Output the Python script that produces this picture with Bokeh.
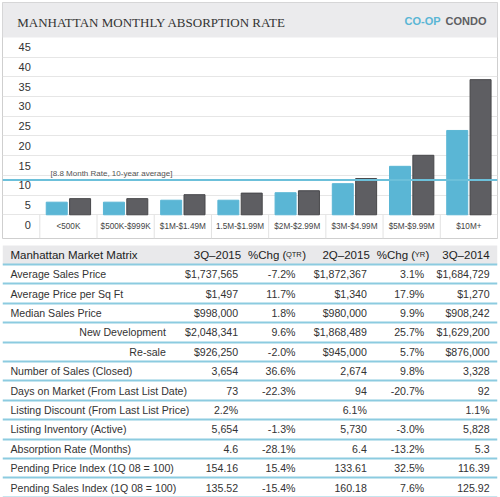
from bokeh.plotting import figure
from bokeh.models import Range1d, FixedTicker, Span, Label, BoxAnnotation, ColumnDataSource
from bokeh.layouts import column
from bokeh.transform import dodge
from bokeh.core.properties import value
from bokeh.embed import file_html
from bokeh.resources import INLINE

# ---------------- data ----------------
chart_title = "MANHATTAN MONTHLY ABSORPTION RATE"
series_names = ["CO-OP", "CONDO"]
categories = ["<500K", "$500K-$999K", "$1M-$1.49M", "1.5M-$1.99M",
              "$2M-$2.99M", "$3M-$4.99M", "$5M-$9.99M", "$10M+"]
coop = [3.2, 3.2, 3.7, 3.7, 5.6, 7.9, 12.3, 21.4]
condo = [4.1, 4.1, 5.1, 5.5, 6.1, 9.2, 15.1, 34.3]
avg_rate = 8.8
avg_note = "[8.8 Month Rate, 10-year average]"
y_ticks = [0, 5, 10, 15, 20, 25, 30, 35, 40, 45]
y_tick_labels = ["0", "5", "10", "15", "20", "25", "30", "35", "40", "45"]

table_title = "Manhattan Market Matrix"
period_headers = ["3Q\u20132015", "2Q\u20132015", "3Q\u20132014"]
chg_headers = ["QTR", "YR"]
row_labels = ["Average Sales Price", "Average Price per Sq Ft", "Median Sales Price",
              "New Development", "Re-sale", "Number of Sales (Closed)",
              "Days on Market (From Last List Date)", "Listing Discount (From Last List Price)",
              "Listing Inventory (Active)", "Absorption Rate (Months)",
              "Pending Price Index (1Q 08 = 100)", "Pending Sales Index (1Q 08 = 100)"]
sub_rows = ["New Development", "Re-sale"]
q3_2015 = ["$1,737,565", "$1,497", "$998,000", "$2,048,341", "$926,250", "3,654",
           "73", "2.2%", "5,654", "4.6", "154.16", "135.52"]
chg_qtr = ["-7.2%", "11.7%", "1.8%", "9.6%", "-2.0%", "36.6%",
           "-22.3%", "", "-1.3%", "-28.1%", "15.4%", "-15.4%"]
q2_2015 = ["$1,872,367", "$1,340", "$980,000", "$1,868,489", "$945,000", "2,674",
           "94", "6.1%", "5,730", "6.4", "133.61", "160.18"]
chg_yr = ["3.1%", "17.9%", "9.9%", "25.7%", "5.7%", "9.8%",
          "-20.7%", "", "-3.0%", "-13.2%", "32.5%", "7.6%"]
q3_2014 = ["$1,684,729", "$1,270", "$908,242", "$1,629,200", "$876,000", "3,328",
           "92", "1.1%", "5,828", "5.3", "116.39", "125.92"]

# ---------------- styles ----------------
BLUE = "#5ab6d5"
GRAY = "#5e5e62"
SANS = "Liberation Sans"
W = 500

# ---------------- chart ----------------
n = len(categories)
Y0, Y1 = -6.02, 53.88
p = figure(width=W, height=239, output_backend="svg", toolbar_location=None,
           x_range=Range1d(-0.652, 8.0), y_range=Range1d(Y0, Y1),
           min_border_left=2, min_border_right=3, min_border_top=2, min_border_bottom=1)
p.outline_line_color = "#cfcfcf"
p.background_fill_color = "white"
p.border_fill_color = "white"

p.add_layout(BoxAnnotation(bottom=45, fill_color="#ebebed", fill_alpha=1,
                           line_color=None, level="image"))

p.xgrid.visible = False
p.xaxis.visible = False
p.ygrid.ticker = FixedTicker(ticks=y_ticks[:-1])
p.ygrid.grid_line_color = "#e6e6e6"
p.ygrid.grid_line_width = 1

ya = p.yaxis[0]
ya.fixed_location = 0
ya.ticker = FixedTicker(ticks=[v - 2.5 for v in y_ticks])
ya.major_label_overrides = {v - 2.5: s for v, s in zip(y_ticks, y_tick_labels)}
ya.major_tick_line_color = None
ya.minor_tick_line_color = None
ya.major_tick_in = 0
ya.major_tick_out = 0
ya.minor_tick_in = 0
ya.minor_tick_out = 0
ya.axis_line_color = None
ya.major_label_standoff = 9
ya.major_label_text_font = SANS
ya.major_label_text_font_size = "11px"
ya.major_label_text_color = "#333333"

# category label row: separators at category boundaries and the labels
bounds = list(range(n + 1))
p.segment(x0=bounds, x1=bounds, y0=[0] * len(bounds), y1=[Y0] * len(bounds),
          line_color="#e2e2e2", line_width=1)
centers = [i + 0.5 for i in range(n)]
p.text(x=centers, y=[-3.0] * n, text=categories, text_align="center",
       text_baseline="middle", text_font=value(SANS), text_font_size="8.2px",
       text_color="#444444")

src = ColumnDataSource(dict(x=centers, coop=coop, condo=condo))
p.vbar(x=dodge("x", -0.204, range=p.x_range), top="coop", width=0.367, source=src,
       fill_color=BLUE, line_color=BLUE)
p.vbar(x=dodge("x", 0.204, range=p.x_range), top="condo", width=0.367, source=src,
       fill_color=GRAY, line_color="#47474a")

p.add_layout(Span(location=avg_rate, dimension="width", line_color="#6cc0da", line_width=2))
p.add_layout(Label(x=0.187, y=avg_rate + 0.45, text=avg_note, text_baseline="bottom",
                   text_font=SANS, text_font_size="8px", text_color="#555555"))

p.add_layout(Label(x=-0.395, y=48.68, text=chart_title, text_baseline="middle",
                   text_font="Liberation Serif", text_font_size="13px", text_color="#333333"))
p.add_layout(Label(x=6.375, y=49.3, text=series_names[0], text_baseline="middle",
                   text_font=SANS, text_font_style="bold",
                   text_font_size="11px", text_color=BLUE))
p.add_layout(Label(x=7.093, y=49.3, text=series_names[1], text_baseline="middle",
                   text_font=SANS, text_font_style="bold",
                   text_font_size="11px", text_color=GRAY))

# ---------------- table ----------------
nr = len(row_labels)
t = figure(width=W, height=258, output_backend="svg", toolbar_location=None,
           x_range=Range1d(0, 500), y_range=Range1d(11.51, -1.789),
           min_border_left=0, min_border_right=0, min_border_top=0, min_border_bottom=0)
t.outline_line_color = None
t.xaxis.visible = False
t.yaxis.visible = False
t.xgrid.visible = False
t.ygrid.ticker = FixedTicker(ticks=[k + 0.5 for k in range(-1, nr)])
t.ygrid.grid_line_color = "#8ccbe0"
t.ygrid.grid_line_width = 2

t.add_layout(BoxAnnotation(top=-1.479, bottom=-0.5, fill_color="#e9e9eb", fill_alpha=1,
                           line_color=None, level="image"))

ys = list(range(nr))
main_idx = [i for i, r in enumerate(row_labels) if r not in sub_rows]
sub_idx = [i for i, r in enumerate(row_labels) if r in sub_rows]
DATA_FS = "10.6px"
HEAD_FS = "11.5px"
TXT = "#333333"

t.text(x=8, y=[ys[i] for i in main_idx], text=[row_labels[i] for i in main_idx],
       text_align="left", text_baseline="middle", text_font=value(SANS),
       text_font_size=DATA_FS, text_color=TXT)
t.text(x=165, y=[ys[i] for i in sub_idx], text=[row_labels[i] for i in sub_idx],
       text_align="right", text_baseline="middle", text_font=value(SANS),
       text_font_size=DATA_FS, text_color=TXT)

col_right = [238, 296, 368, 426, 492]
for col, xr in zip([q3_2015, chg_qtr, q2_2015, chg_yr, q3_2014], col_right):
    t.text(x=xr, y=ys, text=col, text_align="right", text_baseline="middle",
           text_font=value(SANS), text_font_size=DATA_FS, text_color=TXT)

# headers
t.text(x=[8], y=[-1], text=[table_title], text_align="left", text_baseline="middle",
       text_font=value(SANS), text_font_size=HEAD_FS, text_color="#222222")
t.text(x=[241, 371, 492], y=[-1, -1, -1], text=period_headers, text_align="right",
       text_baseline="middle", text_font=value(SANS), text_font_size=HEAD_FS,
       text_color="#222222")
for start, small, small_w in zip([248, 378], chg_headers, [15.8, 10.4]):
    t.text(x=[start], y=[-1], text=["%Chg ("], text_align="left", text_baseline="middle",
           text_font=value(SANS), text_font_size=HEAD_FS, text_color="#222222")
    t.text(x=[start + 38.3], y=[-1], text=[small], text_align="left", text_baseline="middle",
           text_font=value(SANS), text_font_size="7.5px", text_color="#222222")
    t.text(x=[start + 38.3 + small_w + 0.6], y=[-1], text=[")"], text_align="left",
           text_baseline="middle", text_font=value(SANS), text_font_size=HEAD_FS,
           text_color="#222222")

layout = column(p, t, spacing=0)
open("out.html", "w").write(file_html(layout, INLINE))
